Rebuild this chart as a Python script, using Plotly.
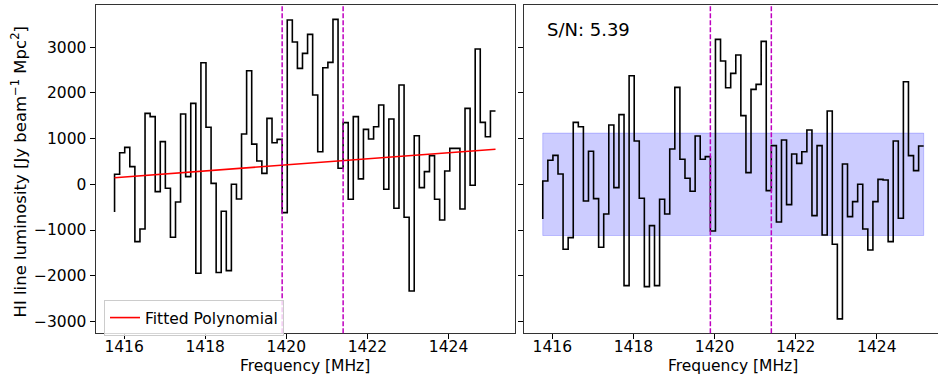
import numpy as np
import plotly.graph_objects as go

# ---------------- data ----------------
chan_start_mhz = 1415.765      # first channel frequency
chan_width_mhz = 0.12522       # channel width
n_chan = 76
freq = chan_start_mhz + chan_width_mhz * np.arange(n_chan)

# HI line luminosity (left panel, before baseline subtraction)
lum_raw = [-605, 219, 692, 809, 386, -1254, -977, 1553, 1480, -160,
           933, -87, -1159, -386, 1538, 168, 1771, -1946, 2661, 1247,
           20, -1930, -590, -1888, 0, -321, 1101, 2486, 880, 510,
           240, 1443, 911, 984, -620, 3594, 3113, 2537, 2865, 3280,
           1954, 714, 2552, 2668, 3609, 350, 1349, -328, 1480, 120,
           1203, 991, 1261, 1735, -109, 1429, -525, 2172, -722, -2333,
           1064, -73, 277, 627, -328, -780, 292, 787, 787, -539,
           1662, -22, 2960, 1356, 1042, 1604]

# baseline-subtracted luminosity (right panel)
lum_sub = [-758, 73, 525, 634, 226, -1421, -1166, 1356, 1261, -365,
           722, -313, -1378, -649, 1298, -73, 1524, -2216, 2376, 948,
           -306, -2238, -904, -2216, -328, -649, 773, 2121, 547, 131,
           -153, 1057, 547, 605, -1020, 3171, 2697, 2114, 2428, 2828,
           1502, 255, 2078, 2187, 3127, -139, 846, -824, 970, -445,
           663, 459, 714, 1188, -685, 846, -1108, 1604, -1312, -2945,
           445, -707, -379, 0, -977, -1436, -379, 109, 95, -1254,
           948, -744, 2245, 627, 299, 838]

# fitted polynomial (linear) evaluated at first and last channel
fit_freq = [freq[0], freq[-1]]
fit_vals = [145, 768]

# line window (dashed markers)
line_window = [1419.897, 1421.400]

# noise band half-height
noise_band = 1120
snr_text = "S/N: 5.39"

x_ticks = [1416, 1418, 1420, 1422, 1424]
y_ticks = [-3000, -2000, -1000, 0, 1000, 2000, 3000]

# ---------------- figure ----------------
W, H = 938, 380
FONT = "DejaVu Sans"
frame_col = "#333333"

fig = go.Figure()

fig.add_trace(go.Scatter(x=freq, y=lum_raw, mode="lines", line_shape="vh",
                         line=dict(color="black", width=1.6),
                         showlegend=False, xaxis="x", yaxis="y"))
fig.add_trace(go.Scatter(x=fit_freq, y=fit_vals, mode="lines",
                         line=dict(color="red", width=1.6),
                         name="Fitted Polynomial", xaxis="x", yaxis="y"))
fig.add_trace(go.Scatter(x=freq, y=lum_sub, mode="lines", line_shape="vh",
                         line=dict(color="black", width=1.6),
                         showlegend=False, xaxis="x2", yaxis="y2"))

shapes = []
# noise band on right panel
shapes.append(dict(type="rect", xref="x2", yref="y2",
                   x0=freq[0], x1=freq[-1], y0=-noise_band, y1=noise_band,
                   fillcolor="rgba(0,0,255,0.2)",
                   line=dict(color="rgba(0,0,255,0.2)", width=1),
                   layer="below"))
for xr, yr in (("x", "y domain"), ("x2", "y2 domain")):
    for lw in line_window:
        shapes.append(dict(type="line", xref=xr, yref=yr, x0=lw, x1=lw,
                           y0=0, y1=1, layer="above",
                           line=dict(color="#BF00BF", width=1.5, dash="5px,2px")))

ydom = [1 - 333.3 / H, 1 - 4.7 / H]
xrange_ = [1415.295, 1425.625]
px_per_mhz = (514.5 - 95.5) / (xrange_[1] - xrange_[0])
x2_left = 523.7
x2range = [xrange_[0], xrange_[0] + (W - x2_left) / px_per_mhz]

axis_common = dict(showgrid=False, zeroline=False, ticks="outside", ticklen=5,
                   tickwidth=1, tickcolor="black", showline=True,
                   linecolor=frame_col, linewidth=1,
                   tickfont=dict(family=FONT, size=15.5, color="black"))

fig.update_layout(
    width=W, height=H,
    margin=dict(l=0, r=0, t=0, b=0),
    paper_bgcolor="white", plot_bgcolor="white",
    font=dict(family=FONT, color="black"),
    xaxis=dict(domain=[95.5 / W, 514.5 / W], range=xrange_, tickvals=x_ticks,
               mirror=True, anchor="y", ticklabelstandoff=-6, **axis_common),
    yaxis=dict(domain=ydom, range=[-3260, 3930], tickvals=y_ticks,
               mirror=True, anchor="x", **axis_common),
    xaxis2=dict(domain=[x2_left / W, 1.0], range=x2range, tickvals=x_ticks,
                mirror=True, anchor="y2", ticklabelstandoff=-6, **axis_common),
    yaxis2=dict(domain=ydom, range=[-3260, 3930], tickvals=y_ticks,
                mirror=False, anchor="x2", showticklabels=False, **axis_common),
    shapes=shapes,
    showlegend=True,
    legend=dict(x=104 / W, y=1 - 300 / H, xanchor="left", yanchor="top",
                bgcolor="rgba(255,255,255,0.8)", bordercolor="#cccccc",
                borderwidth=1, font=dict(family=FONT, size=15.5, color="black")),
    annotations=[
        dict(text="Frequency [MHz]", xref="paper", yref="paper",
             x=(95.5 + 514.5) / 2 / W, y=1 - 366 / H, xanchor="center",
             yanchor="middle", showarrow=False,
             font=dict(family=FONT, size=15.5, color="black")),
        dict(text="Frequency [MHz]", xref="paper", yref="paper",
             x=(x2_left + 942.7) / 2 / W, y=1 - 366 / H, xanchor="center",
             yanchor="middle", showarrow=False,
             font=dict(family=FONT, size=15.5, color="black")),
        dict(text="HI line luminosity [Jy beam<sup>\u22121</sup> Mpc<sup>2</sup>]",
             xref="paper", yref="paper", x=19 / W, y=1 - 172.5 / H,
             xanchor="center", yanchor="middle", textangle=-90, showarrow=False,
             font=dict(family=FONT, size=16.5, color="black")),
        dict(text=snr_text, xref="paper", yref="paper", x=545 / W, y=1 - 29 / H,
             xanchor="left", yanchor="middle", showarrow=False,
             font=dict(family=FONT, size=18, color="black")),
    ],
)

fig.write_html("out.html")
